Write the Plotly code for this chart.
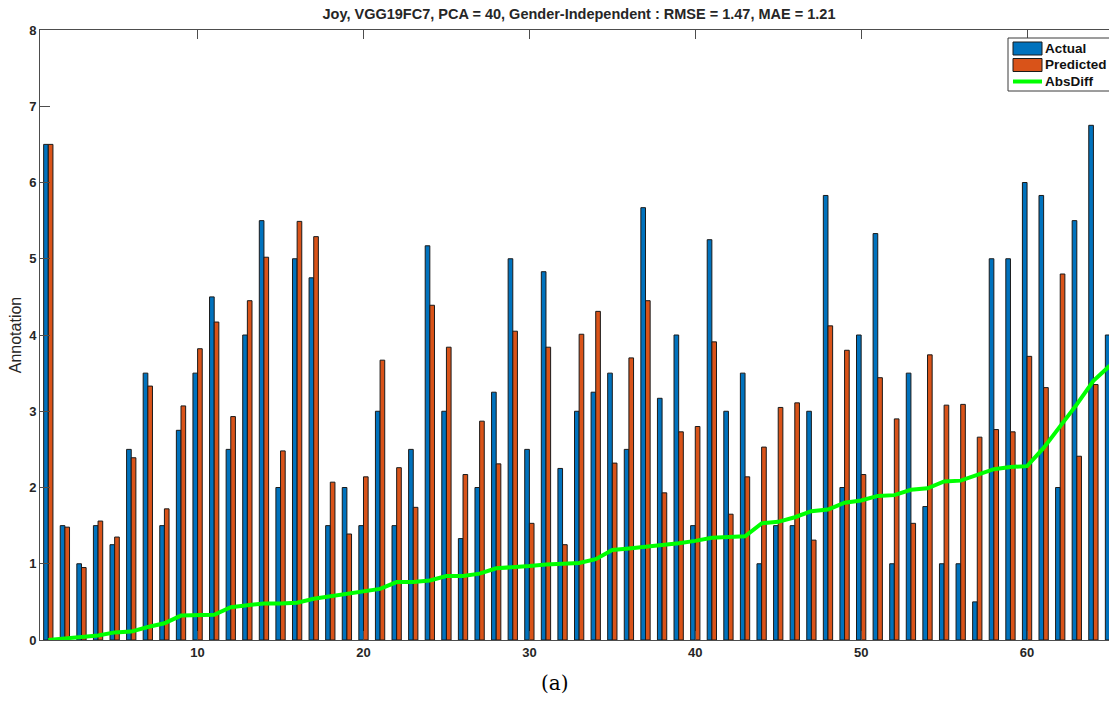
import plotly.graph_objects as go

categories = list(range(1, 66))

actual = [6.5, 1.5, 1.0, 1.5, 1.25, 2.5, 3.5, 1.5, 2.75, 3.5,
          4.5, 2.5, 4.0, 5.5, 2.0, 5.0, 4.75, 1.5, 2.0, 1.5,
          3.0, 1.5, 2.5, 5.17, 3.0, 1.33, 2.0, 3.25, 5.0, 2.5,
          4.83, 2.25, 3.0, 3.25, 3.5, 2.5, 5.67, 3.17, 4.0, 1.5,
          5.25, 3.0, 3.5, 1.0, 1.5, 1.5, 3.0, 5.83, 2.0, 4.0,
          5.33, 1.0, 3.5, 1.75, 1.0, 1.0, 0.5, 5.0, 5.0, 6.0,
          5.83, 2.0, 5.5, 6.75, 4.0]

predicted = [6.5, 1.48, 0.95, 1.56, 1.35, 2.39, 3.33, 1.72, 3.07, 3.82,
             4.17, 2.93, 4.45, 5.02, 2.48, 5.49, 5.29, 2.07, 1.39, 2.14,
             3.67, 2.26, 1.74, 4.39, 3.84, 2.17, 2.87, 2.31, 4.05, 1.53,
             3.84, 1.25, 4.01, 4.31, 2.32, 3.70, 4.45, 1.93, 2.73, 2.80,
             3.91, 1.65, 2.14, 2.53, 3.05, 3.11, 1.31, 4.12, 3.80, 2.17,
             3.44, 2.90, 1.53, 3.74, 3.08, 3.09, 2.66, 2.76, 2.73, 3.72,
             3.31, 4.80, 2.41, 3.35, 0.40]

absdiff = [0.0, 0.02, 0.05, 0.06, 0.10, 0.11, 0.17, 0.22, 0.32, 0.32,
           0.33, 0.43, 0.45, 0.48, 0.48, 0.49, 0.54, 0.57, 0.61, 0.64,
           0.67, 0.76, 0.76, 0.78, 0.84, 0.84, 0.87, 0.94, 0.95, 0.97,
           0.99, 1.00, 1.01, 1.06, 1.18, 1.20, 1.22, 1.24, 1.27, 1.30,
           1.34, 1.35, 1.36, 1.53, 1.55, 1.61, 1.69, 1.71, 1.80, 1.83,
           1.89, 1.90, 1.97, 1.99, 2.08, 2.09, 2.16, 2.24, 2.27, 2.28,
           2.52, 2.80, 3.09, 3.40, 3.60]

series_names = ["Actual", "Predicted", "AbsDiff"]
x_ticks = [10, 20, 30, 40, 50, 60]
y_ticks = [0, 1, 2, 3, 4, 5, 6, 7, 8]

title_text = "Joy, VGG19FC7, PCA = 40, Gender-Independent : RMSE = 1.47, MAE = 1.21"

FONT = "Liberation Sans, Arial, sans-serif"
BLUE = "#0072BD"
ORANGE = "#D95319"
GREEN = "#00FF00"
EDGE = "#1a1a1a"
AXIS = "#4d4d4d"
TEXT = "#262626"

# figure geometry in page pixels (page body margin removed below)
W, H = 1109, 706
L, T = 40, 30
PLOT_BOTTOM = 640
B = H - PLOT_BOTTOM
PW = W - L
PH = PLOT_BOTTOM - T


def px(xf):
    return (xf - L) / PW


def py(yf):
    return (PLOT_BOTTOM - yf) / PH


fig = go.Figure()
fig.add_trace(go.Bar(
    x=categories, y=actual, name=series_names[0],
    marker=dict(color=BLUE, line=dict(color=EDGE, width=1)),
))
fig.add_trace(go.Bar(
    x=categories, y=predicted, name=series_names[1],
    marker=dict(color=ORANGE, line=dict(color=EDGE, width=1)),
))
fig.add_trace(go.Scatter(
    x=categories, y=absdiff, name=series_names[2], mode="lines",
    line=dict(color=GREEN, width=4),
))

fig.update_layout(
    width=W, height=H,
    margin=dict(l=L, r=0, t=T, b=B),
    paper_bgcolor="white", plot_bgcolor="white",
    barmode="group", bargap=0.44, bargroupgap=0.0,
    showlegend=False,
    title=dict(
        text="<b>" + title_text + "</b>",
        x=579 / W, xanchor="center", xref="container",
        y=1 - 14 / H, yanchor="middle", yref="container",
        font=dict(family=FONT, size=14.5, color=TEXT),
    ),
    font=dict(family=FONT),
)

fig.update_xaxes(
    range=[0.5, 64.94],
    tickmode="array", tickvals=x_ticks, ticktext=[str(v) for v in x_ticks],
    ticks="inside", ticklen=9, tickcolor=AXIS, tickwidth=1,
    showline=True, linecolor=AXIS, linewidth=1, mirror="ticks",
    showgrid=False, zeroline=False,
    tickfont=dict(family=FONT, size=13, color=TEXT, weight="bold"),
)
fig.update_yaxes(
    range=[0, 8],
    tickmode="array", tickvals=y_ticks, ticktext=[str(v) for v in y_ticks],
    ticks="inside", ticklen=10, tickcolor=AXIS, tickwidth=1,
    showline=True, linecolor=AXIS, linewidth=1, mirror=False,
    showgrid=False, zeroline=False,
    tickfont=dict(family=FONT, size=13, color=TEXT, weight="bold"),
    title=dict(text="Annotation", font=dict(family=FONT, size=16, color=TEXT), standoff=3),
)

# custom MATLAB-like legend box (top right)
box_x0, box_x1 = 1008, 1118
box_y0, box_y1 = 38, 91
fig.add_shape(type="rect", xref="paper", yref="paper",
              x0=px(box_x0), x1=px(box_x1), y0=py(box_y1), y1=py(box_y0),
              fillcolor="white", line=dict(color="#3a3a3a", width=1), layer="above")
row_y = [48.5, 65, 81.5]
patch_x0, patch_x1 = 1013, 1042
patch_colors = [BLUE, ORANGE]
for i, c in enumerate(patch_colors):
    fig.add_shape(type="rect", xref="paper", yref="paper",
                  x0=px(patch_x0), x1=px(patch_x1),
                  y0=py(row_y[i] + 6.5), y1=py(row_y[i] - 6.5),
                  fillcolor=c, line=dict(color=EDGE, width=1), layer="above")
fig.add_shape(type="line", xref="paper", yref="paper",
              x0=px(patch_x0), x1=px(patch_x1), y0=py(row_y[2]), y1=py(row_y[2]),
              line=dict(color=GREEN, width=4), layer="above")
for i, name in enumerate(series_names):
    fig.add_annotation(
        text="<b>" + name + "</b>", showarrow=False,
        xref="paper", yref="paper", x=px(1043), y=py(row_y[i]),
        xanchor="left", yanchor="middle",
        font=dict(family=FONT, size=13.5, color="#111111"),
    )

fig.add_annotation(
    text="(a)", showarrow=False,
    xref="paper", yref="paper",
    x=px(555), y=py(683),
    xanchor="center", yanchor="middle",
    font=dict(family="DejaVu Serif, Liberation Serif, serif", size=20, color="#000000"),
)

page_fix = (
    "document.documentElement.style.margin='0';"
    "document.documentElement.style.padding='0';"
    "document.documentElement.style.overflow='hidden';"
    "document.body.style.margin='0';"
    "document.body.style.padding='0';"
    "document.body.style.overflow='hidden';"
)

fig.write_html("out.html", post_script=page_fix, config={"displayModeBar": False})
